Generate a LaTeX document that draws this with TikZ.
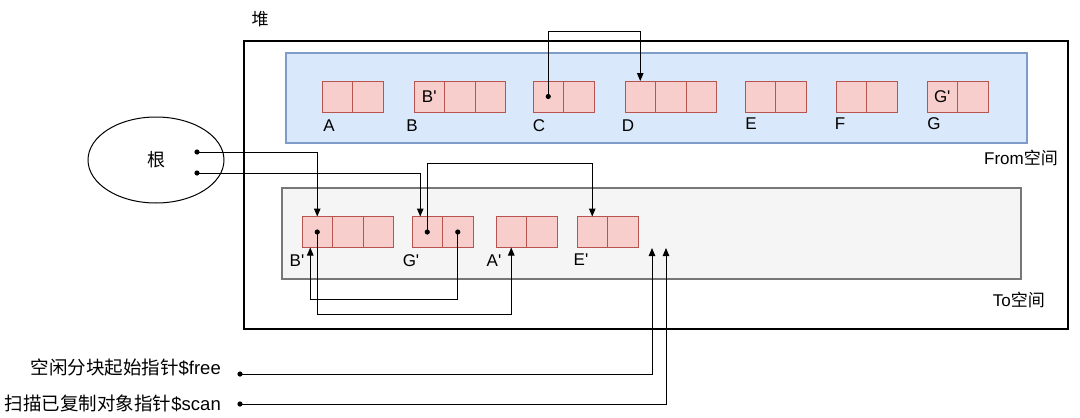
\documentclass[tikz,border=0pt]{standalone}
\usepackage{fontspec}
\setmainfont{Liberation Sans}
\newfontfamily\cjk{Noto Sans CJK SC}
\usetikzlibrary{arrows.meta, shapes.geometric}
\definecolor{fromfill}{HTML}{DAE8FC}
\definecolor{fromline}{HTML}{7F9CC9}
\definecolor{cellfill}{HTML}{F8CECC}
\definecolor{cellline}{HTML}{B85450}
\definecolor{tofill}{HTML}{F5F5F5}
\definecolor{toline}{HTML}{777777}
\newcommand{\prm}{\textquotesingle}
\newcommand{\dotat}[1]{\fill (#1) circle (2.6pt);}

\tikzset{
  cell/.style={draw=cellline, fill=cellfill, line width=0.9pt, minimum width=30.5pt,
    minimum height=31pt, inner sep=0pt, outer sep=0pt},
  lbl/.style={inner sep=0pt, font=\fontsize{17}{20}\selectfont},
  biglbl/.style={inner sep=0pt, font=\fontsize{18.5}{22}\selectfont},
  ptr/.style={line width=1pt, -{Triangle[length=8pt,width=6.5pt]}},
}

\begin{document}
\begin{tikzpicture}[x=1pt, y=-1pt]
    \useasboundingbox (0,0) rectangle (1080,418);
    % heap and its two spaces
    \node[draw, line width=1.4pt, minimum width=824pt, minimum height=288pt, inner sep=0pt] (heap) at (656,185) {};
    \node[lbl] (heaplbl) at (260,19) {\cjk 堆};
    \node[draw=fromline, fill=fromfill, line width=1.2pt, minimum width=741pt, minimum height=90pt, inner sep=0pt] (fromsp) at (656.5,98) {};
    \node[draw=toline, fill=tofill, line width=1.2pt, minimum width=739pt, minimum height=91pt, inner sep=0pt] (tosp) at (651.5,233.5) {};
    \node[lbl, anchor=east] (fromlbl) at (1058,158) {From{\cjk 空间}};
    \node[lbl, anchor=east] (tolbl) at (1045,300) {To{\cjk 空间}};

    % objects in the From space
    \foreach \n/\x/\k in {A/322/2, B/414/3, C/533/2, D/625/3, E/745/2, F/836/2, G/927/2}
        \foreach \i in {1,...,\k}
            \node[cell] (\n\i) at (\x+15.25+30.5*\i-30.5, 96.5) {};
    \node[lbl] (Bfwd) at (B1) {B\prm};
    \node[lbl] (Gfwd) at (G1) {G\prm};
    \node[lbl] (Albl) at (329,126) {A};
    \node[lbl] (Blbl) at (412,126) {B};
    \node[lbl] (Clbl) at (539,126) {C};
    \node[lbl] (Dlbl) at (628,126) {D};
    \node[lbl] (Elbl) at (751,124) {E};
    \node[lbl] (Flbl) at (840,124) {F};
    \node[lbl] (Glbl) at (934,124) {G};

    % objects copied into the To space
    \foreach \n/\x/\k in {Bp/302/3, Gp/412/2, Ap/496/2, Ep/577/2}
        \foreach \i in {1,...,\k}
            \node[cell] (\n\i) at (\x+15.25+30.5*\i-30.5, 232) {};
    \node[lbl] (Bplbl) at (297,261) {B\prm};
    \node[lbl] (Gplbl) at (411,261) {G\prm};
    \node[lbl] (Aplbl) at (494,261) {A\prm};
    \node[lbl] (Eplbl) at (581,260) {E\prm};

    % root set
    \node[draw, ellipse, line width=1pt, minimum width=136pt, minimum height=86pt, font=\fontsize{18}{21}\selectfont] (root) at (156,160) {\cjk 根};
    \coordinate (r1) at (197,152);
    \coordinate (r2) at (197,173);

    % pointers
    \draw[ptr] (C1.center) -- ++(0,-65) -| (D1.north);
    \draw[ptr] (r1) -| (Bp1.north);
    \draw[ptr] (r2) -| ([xshift=-7pt]Gp1.north);
    \draw[ptr] (Gp1.center) -- ++(0,-69) -| (Ep1.north);
    \draw[ptr] (Bp1.center) -- ++(0,82) -| (Ap1.south);
    \draw[ptr] (Gp2.center) -- ++(0,67) -| ([xshift=-7pt]Bp1.south);
    \dotat{C1.center}
    \dotat{Bp1.center}
    \dotat{Gp1.center}
    \dotat{Gp2.center}
    \dotat{r1}
    \dotat{r2}

    % $free and $scan
    \node[biglbl, anchor=east] (freelbl) at (221,367) {{\cjk 空闲分块起始指针}\$free};
    \node[biglbl, anchor=east] (scanlbl) at (221,403) {{\cjk 扫描已复制对象指针}\$scan};
    \coordinate (freept) at (240,374);
    \coordinate (scanpt) at (240,404);
    \coordinate (freeend) at (652,248);
    \coordinate (scanend) at (666,248);
    \draw[ptr] (freept) -| (freeend);
    \draw[ptr] (scanpt) -| (scanend);
    \dotat{freept}
    \dotat{scanpt}
\end{tikzpicture}
\end{document}
